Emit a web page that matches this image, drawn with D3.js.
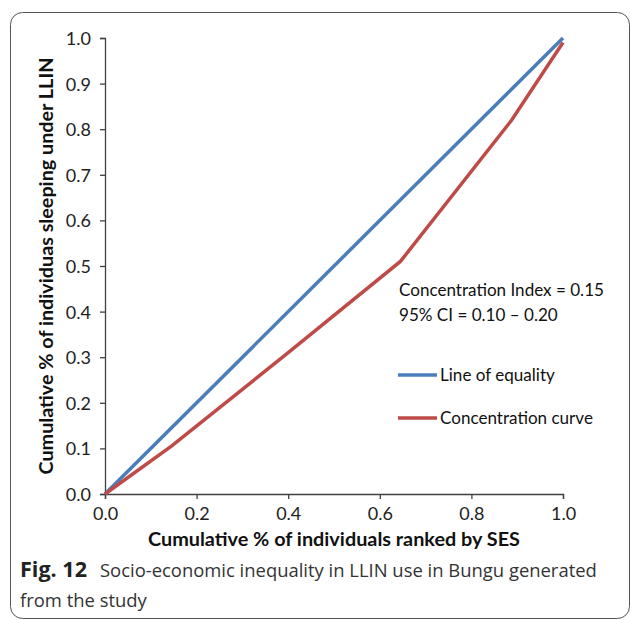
<!DOCTYPE html>
<html><head><meta charset="utf-8">
<script src="https://cdn.jsdelivr.net/npm/d3@7"></script>
<style>body{margin:0;background:#fff}svg{display:block}</style>
</head><body>
<svg id="c" width="630" height="620"></svg>
<script>
const equalityX = [0, 1];
const equalityY = [0, 1];
const concX = [0, 0.145, 0.4, 0.645, 0.888, 1.0];
const concY = [0, 0.105, 0.31, 0.51, 0.82, 0.99];
const tickValues = [0, 0.1, 0.2, 0.3, 0.4, 0.5, 0.6, 0.7, 0.8, 0.9, 1.0];
const xTickValues = [0, 0.2, 0.4, 0.6, 0.8, 1.0];
const seriesNames = ["Line of equality", "Concentration curve"];
const seriesColors = ["#4a7ebb", "#be4b48"];
const annotation = ["Concentration Index = 0.15", "95% CI = 0.10 \u2013 0.20"];
const xTitle = "Cumulative % of individuals ranked by SES";
const yTitle = "Cumulative % of individuas sleeping under LLIN";
const figLabel = "Fig. 12";
const captionLines = ["Socio-economic inequality in LLIN use in Bungu generated", "from the study"];

const svg = d3.select("#c");
const font = "Lato, 'Open Sans', sans-serif";
const capFont = "'Open Sans', 'Noto Sans', sans-serif";

// scale font-size so the text reaches a target width
function fit(sel, target) {
  const node = sel.node();
  const fs = parseFloat(sel.attr("font-size"));
  const w = node.getComputedTextLength();
  if (w > 0) sel.attr("font-size", (fs * target / w).toFixed(2));
  return sel;
}

svg.append("rect").attr("x", 10.5).attr("y", 12.5).attr("width", 619).attr("height", 606)
  .attr("rx", 12).attr("fill", "none").attr("stroke", "#555").attr("stroke-width", 1);

const x = d3.scaleLinear().domain([0, 1]).range([105, 563]);
const y = d3.scaleLinear().domain([0, 1]).range([494, 38]);

const axisColor = "#404040";
const gx = svg.append("g").attr("transform", "translate(0,494)")
  .call(d3.axisBottom(x).tickValues(xTickValues).tickFormat(d3.format(".1f")).tickSizeOuter(0).tickSize(5).tickPadding(4));
const gy = svg.append("g").attr("transform", "translate(105,0)")
  .call(d3.axisLeft(y).tickValues(tickValues).tickFormat(d3.format(".1f")).tickSizeOuter(0).tickSize(5).tickPadding(9));
[gx, gy].forEach(g => {
  g.select(".domain").attr("stroke", axisColor).attr("stroke-width", 1.3);
  g.selectAll(".tick line").attr("stroke", axisColor).attr("stroke-width", 1.3);
  g.selectAll("text").attr("font-family", font).attr("font-size", 18).attr("fill", "#222");
});
gx.selectAll("text").attr("dy", "0").attr("y", 26);
gy.selectAll("text").attr("dy", "0.36em");

const line = d3.line().x(d => x(d[0])).y(d => y(d[1]));
const eq = equalityX.map((v, i) => [v, equalityY[i]]);
const cc = concX.map((v, i) => [v, concY[i]]);
svg.append("path").datum(eq).attr("d", line).attr("fill", "none")
  .attr("stroke", seriesColors[0]).attr("stroke-width", 3.5);
svg.append("path").datum(cc).attr("d", line).attr("fill", "none")
  .attr("stroke", seriesColors[1]).attr("stroke-width", 3.5);

// annotation
const a0 = svg.append("text").attr("x", 399).attr("y", 296).text(annotation[0])
  .attr("font-family", font).attr("font-size", 15).attr("fill", "#111");
fit(a0, 205);
svg.append("text").attr("x", 399).attr("y", 321).text(annotation[1])
  .attr("font-family", font).attr("font-size", a0.attr("font-size")).attr("fill", "#111");

// legend
seriesNames.forEach((n, i) => {
  const ly = 375 + i * 43;
  svg.append("line").attr("x1", 398).attr("x2", 437).attr("y1", ly).attr("y2", ly)
    .attr("stroke", seriesColors[i]).attr("stroke-width", 3.5);
  svg.append("text").attr("x", 440).attr("y", ly + 6).text(n)
    .attr("font-family", font).attr("font-size", a0.attr("font-size")).attr("fill", "#111");
});

// axis titles
const xt = svg.append("text").attr("x", 334).attr("y", 546).attr("text-anchor", "middle").text(xTitle)
  .attr("font-family", font).attr("font-size", 16).attr("font-weight", "bold").attr("fill", "#111");
fit(xt, 372);
const yt = svg.append("text").attr("transform", "translate(53,266) rotate(-90)").attr("text-anchor", "middle").text(yTitle)
  .attr("font-family", font).attr("font-size", 16).attr("font-weight", "bold").attr("fill", "#111");
fit(yt, 417);

// caption
const fl = svg.append("text").attr("x", 20).attr("y", 577).text(figLabel)
  .attr("font-family", capFont).attr("font-size", 17).attr("font-weight", "bold").attr("fill", "#222");
fit(fl, 67);
const c1 = svg.append("text").attr("x", 100).attr("y", 577).text(captionLines[0])
  .attr("font-family", capFont).attr("font-size", 17).attr("fill", "#333");
fit(c1, 497);
svg.append("text").attr("x", 20).attr("y", 607).text(captionLines[1])
  .attr("font-family", capFont).attr("font-size", c1.attr("font-size")).attr("fill", "#333");
</script>
</body></html>
